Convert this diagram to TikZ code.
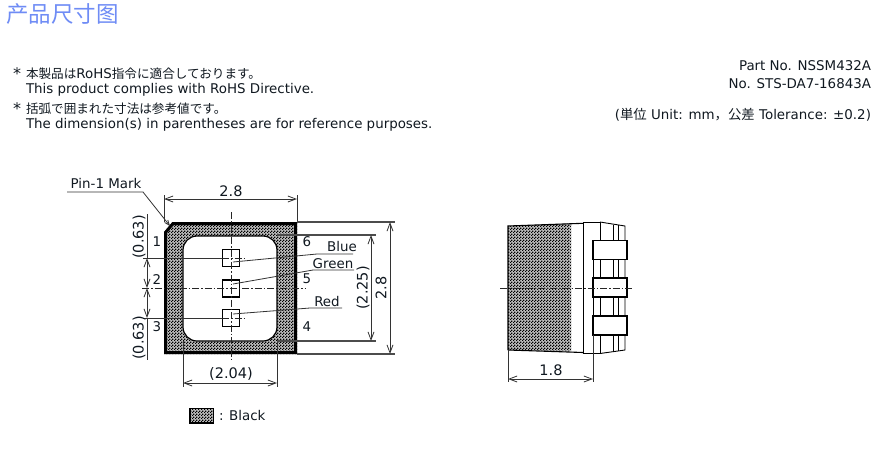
\documentclass[tikz,border=0pt]{standalone}
\usepackage{fontspec}
\setmainfont{DejaVu Sans}
\newfontfamily\cjk{Noto Sans CJK JP}
\newfontfamily\cjksc{Noto Sans CJK SC}
\usetikzlibrary{arrows.meta,patterns}
\pgfdeclarepatternformonly{chk}{\pgfpointorigin}{\pgfqpoint{3pt}{3pt}}{\pgfqpoint{3pt}{3pt}}{%
  \pgfpathrectangle{\pgfpointorigin}{\pgfqpoint{1.5pt}{1.5pt}}%
  \pgfpathrectangle{\pgfqpoint{1.5pt}{1.5pt}}{\pgfqpoint{1.5pt}{1.5pt}}%
  \pgfusepath{fill}}
\definecolor{inkc}{HTML}{101820}
\definecolor{titleblue}{HTML}{6F8CF5}
\tikzset{
  x=1pt,y=-1pt,
  txt/.style={font=\fontsize{13.4}{15}\selectfont,text=inkc,inner sep=0pt,outer sep=0pt},
  dimlabel/.style={txt,font=\fontsize{14.5}{15}\selectfont},
  star/.style={txt,font=\fontsize{16}{16}\selectfont},
  ext/.style={line width=0.8pt,draw=black!80},
  hvy/.style={line width=1.1pt,draw=black!70},
  dim/.style={line width=0.8pt,draw=black!80,{Straight Barb[length=8pt,width=6pt]}-{Straight Barb[length=8pt,width=6pt]}},
  centre/.style={line width=0.7pt,draw=black!85,dash pattern=on 7pt off 2pt on 1.5pt off 2pt},
  hatchbase/.style={fill=black!25},
  hatch/.style={pattern=chk,pattern color=black},
  pad/.style={draw=black,line width=1.8pt,fill=white},
  chip/.style={draw=black,line width=1.1pt,fill=white}
}
\begin{document}
\begin{tikzpicture}
\useasboundingbox (0,0) rectangle (879,451);
% title and notes
\node[anchor=west,inner sep=0pt,text=titleblue,font=\cjksc\fontsize{22.5}{24}\selectfont] (title) at (6,14) {产品尺寸图};
\node[star,anchor=west] (s1) at (13,74) {*};
\node[txt,anchor=west] (n1) at (26,73.5) {\cjk\fontsize{12.6}{14}\selectfont 本製品は{\rmfamily\fontsize{13.4}{14}\selectfont RoHS}指令に適合しております。};
\node[txt,anchor=west] (n2) at (26,89.5) {This product complies with RoHS Directive.};
\node[star,anchor=west] (s2) at (13,109) {*};
\node[txt,anchor=west] (n3) at (26,108.5) {\cjk\fontsize{12.6}{14}\selectfont 括弧で囲まれた寸法は参考値です。};
\node[txt,anchor=west] (n4) at (26,124.5) {The dimension(s) in parentheses are for reference purposes.};
\node[txt,anchor=east] (p1) at (871,66) {Part No. NSSM432A};
\node[txt,anchor=east] (p2) at (871,84) {No. STS-DA7-16843A};
\node[txt,anchor=east] (p3) at (871,115) {({\cjk 単位} Unit: mm{\cjk \char"FF0C 公差} Tolerance: ±0.2)};
% main body
\path[hatchbase] (173,222) -- (297,222) -- (297,354) -- (164,354) -- (164,232) -- cycle;
\path[hatch] (173,222) -- (297,222) -- (297,354) -- (164,354) -- (164,232) -- cycle;
\draw[line width=3pt,draw=black,miter limit=2] (173,223.5) -- (295.5,223.5) -- (295.5,352.5) -- (165.5,352.5) -- (165.5,232.5) -- cycle;
\draw[line width=1.2pt,draw=black,fill=white,rounded corners=14pt] (183,236) rectangle (277,341);
% extension lines
\draw[ext] (164,195) -- (164,222);
\draw[ext] (297,195) -- (297,222);
\draw[ext] (183,341) -- (183,387);
\draw[ext] (277,341) -- (277,387);
\draw[hvy] (297,222) -- (395,222);
\draw[hvy] (297,354) -- (395,354);
\draw[hvy] (277,235) -- (376,235);
\draw[hvy] (277,341) -- (376,341);
\draw[ext] (143,258) -- (222,258);
\draw[ext] (143,318) -- (222,318);
% chips
\node[chip,minimum width=17pt,minimum height=17pt,inner sep=0pt] (c1) at (231,258) {};
\node[chip,minimum width=17pt,minimum height=17pt,inner sep=0pt] (c2) at (231,288.5) {};
\node[chip,minimum width=17pt,minimum height=17pt,inner sep=0pt] (c3) at (231,318) {};
% centre lines
\draw[centre] (231,212) -- (231,360);
\draw[centre] (142,288) -- (305,288);
\draw[centre] (222,258) -- (244,258);
\draw[centre] (222,318) -- (244,318);
% dimensions
\coordinate (t1) at (164,199); \coordinate (t2) at (297,199);
\draw[dim] (t1) -- (t2);
\node[dimlabel] (d28) at (231,191) {2.8};
\coordinate (b1) at (183,383); \coordinate (b2) at (277,383);
\draw[dim] (b1) -- (b2);
\node[dimlabel] (d204) at (231,374) {(2.04)};
\coordinate (r1) at (390,222); \coordinate (r2) at (390,354);
\draw[dim] (r1) -- (r2);
\node[dimlabel,rotate=90] (dr) at (381,288) {2.8};
\coordinate (s1a) at (371,235); \coordinate (s1b) at (371,341);
\draw[dim] (s1a) -- (s1b);
\node[dimlabel,rotate=90] (ds) at (363,288) {(2.25)};
\coordinate (l0) at (147,214); \coordinate (l1) at (147,258); \coordinate (l2) at (147,288); \coordinate (l3) at (147,318); \coordinate (l4) at (147,360);
\draw[ext,line width=0.7pt] (l0) -- (l1);
\draw[dim] (l1) -- (l2);
\draw[dim] (l2) -- (l3);
\draw[ext,line width=0.7pt] (l3) -- (l4);
\node[dimlabel,rotate=90] (dl1) at (139,237) {(0.63)};
\node[dimlabel,rotate=90] (dl2) at (139,338) {(0.63)};
% pin 1 mark
\node[txt] (pin) at (106,183) {Pin-1 Mark};
\coordinate (pa) at (67,192); \coordinate (pb) at (143,192); \coordinate (pc) at (170,226);
\draw[ext,-{Straight Barb[length=5pt,width=4pt]}] (pa) -- (pb) -- (pc);
% pin numbers
\node[txt] (n_1) at (157,242) {1};
\node[txt] (n_2) at (157,280) {2};
\node[txt] (n_3) at (157,327) {3};
\node[txt] (n_6) at (307,242) {6};
\node[txt] (n_5) at (307,279) {5};
\node[txt] (n_4) at (307,327) {4};
% leaders
\node[txt] (blue) at (342,246) {Blue};
\node[txt] (green) at (333,264) {Green};
\node[txt] (red) at (327,301) {Red};
\draw[ext] (233,262) -- (317,254) -- (353,254);
\draw[ext] (233,284) -- (313,270) -- (354,270);
\draw[ext] (233,314) -- (310,308) -- (342,308);
% legend
\path[hatchbase] (190,408.5) rectangle (213.5,423);
\path[hatch] (190,408.5) rectangle (213.5,423);
\draw[draw=black,line width=1.8pt] (190,408.5) rectangle (213.5,423);
\node[txt,anchor=west] (leg) at (219,415) {: Black};
% side view
\path[hatchbase] (508,226) -- (571,223.5) -- (571,351.5) -- (508,350) -- cycle;
\path[hatch] (508,226) -- (571,223.5) -- (571,351.5) -- (508,350) -- cycle;
\draw[line width=1.1pt,draw=black] (508,350) -- (508,226) -- (583,223.3);
\draw[line width=1.1pt,draw=black] (508,350) -- (583,352.5);
\draw[line width=0.9pt,draw=black] (583,222) rectangle (600,353.5);
\draw[line width=0.9pt,draw=black] (600,222) -- (625,226) -- (625,350) -- (600,353.5);
\draw[line width=0.7pt,draw=black] (613,224.5) -- (613,351.5);
\draw[line width=0.7pt,draw=black] (618,225) -- (618,351);
\draw[line width=0.8pt,draw=black] (593,240) -- (593,335);
\node[pad,minimum width=34pt,minimum height=19pt,inner sep=0pt] (p_a) at (610,250) {};
\node[pad,minimum width=34pt,minimum height=19pt,inner sep=0pt] (p_b) at (610,287.5) {};
\node[pad,minimum width=34pt,minimum height=19pt,inner sep=0pt] (p_c) at (610,325.5) {};
\draw[centre] (500,288) -- (632,288);
\draw[ext] (508,350) -- (508,382);
\draw[ext] (593,335) -- (593,382);
\coordinate (w1) at (508,379); \coordinate (w2) at (593,379);
\draw[dim] (w1) -- (w2);
\node[dimlabel] (d18) at (551,370) {1.8};
\end{tikzpicture}
\end{document}
